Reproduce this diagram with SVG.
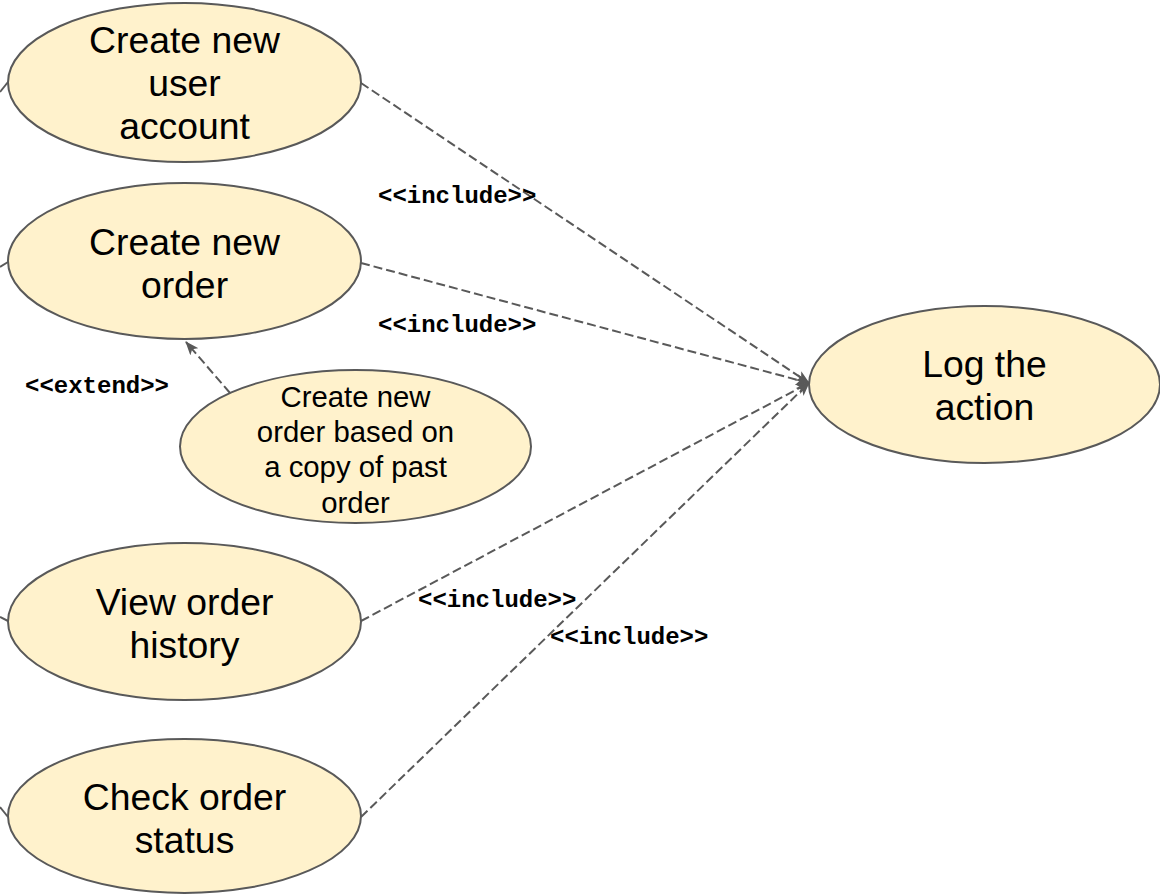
<svg xmlns="http://www.w3.org/2000/svg" width="1160" height="895" viewBox="0 0 1160 895">
  <style>
    .uc { fill: #fff2cc; stroke: #595959; stroke-width: 2; }
    .lbl { font-family: "Liberation Sans", Arial, sans-serif; font-size: 37.33px; fill: #000; text-anchor: middle; }
    .lbl-sm { font-family: "Liberation Sans", Arial, sans-serif; font-size: 29.33px; fill: #000; text-anchor: middle; }
    .dep { fill: none; stroke: #595959; stroke-width: 2; stroke-dasharray: 9 4; }
    .assoc { fill: none; stroke: #595959; stroke-width: 2; }
    .stereo { font-family: "Liberation Mono", "Courier New", monospace; font-weight: bold; font-size: 24px; fill: #000; }
  </style>
  <defs>
    <marker id="arrow" viewBox="0 0 14 11" refX="13" refY="5.5" markerWidth="14" markerHeight="11" markerUnits="userSpaceOnUse" orient="auto">
      <path d="M0,0 L14,5.5 L0,11 L3.5,5.5 Z" fill="#595959"/>
    </marker>
  </defs>
  <rect width="1160" height="895" fill="#ffffff"/>

  <!-- association stubs and dependency connectors -->
  <g id="connectors">
    <line class="assoc" x1="0" y1="92" x2="8" y2="82"/>
    <line class="assoc" x1="0" y1="267" x2="8" y2="262"/>
    <line class="assoc" x1="0" y1="617" x2="8" y2="621"/>
    <line class="assoc" x1="0" y1="807" x2="8" y2="817"/>

    <line class="dep" x1="361" y1="83" x2="809" y2="383" marker-end="url(#arrow)"/>
    <line class="dep" x1="361" y1="263" x2="809" y2="383" marker-end="url(#arrow)"/>
    <line class="dep" x1="361" y1="621" x2="809" y2="383" marker-end="url(#arrow)"/>
    <line class="dep" x1="361" y1="817" x2="809" y2="383" marker-end="url(#arrow)"/>
    <line class="dep" x1="230" y1="393" x2="186" y2="342" marker-end="url(#arrow)"/>

    <text class="stereo" x="378" y="203">&lt;&lt;include&gt;&gt;</text>
    <text class="stereo" x="378" y="332">&lt;&lt;include&gt;&gt;</text>
    <text class="stereo" x="418" y="607">&lt;&lt;include&gt;&gt;</text>
    <text class="stereo" x="550" y="644">&lt;&lt;include&gt;&gt;</text>
    <text class="stereo" x="25" y="393">&lt;&lt;extend&gt;&gt;</text>
  </g>

  <g id="uc-create-account">
    <ellipse class="uc" cx="184.5" cy="82.5" rx="176.5" ry="79.5"/>
    <text class="lbl" x="184.5" y="53">Create new</text>
    <text class="lbl" x="184.5" y="96">user</text>
    <text class="lbl" x="184.5" y="139">account</text>
  </g>

  <g id="uc-create-order">
    <ellipse class="uc" cx="184.5" cy="261" rx="176.5" ry="78"/>
    <text class="lbl" x="184.5" y="255">Create new</text>
    <text class="lbl" x="184.5" y="298">order</text>
  </g>

  <g id="uc-copy-order">
    <ellipse class="uc" cx="355.5" cy="446.5" rx="175.5" ry="76.5"/>
    <text class="lbl-sm" x="355.5" y="407">Create new</text>
    <text class="lbl-sm" x="355.5" y="442">order based on</text>
    <text class="lbl-sm" x="355.5" y="477">a copy of past</text>
    <text class="lbl-sm" x="355.5" y="513">order</text>
  </g>

  <g id="uc-view-history">
    <ellipse class="uc" cx="184.5" cy="621.5" rx="176.5" ry="78.5"/>
    <text class="lbl" x="184.5" y="615">View order</text>
    <text class="lbl" x="184.5" y="658">history</text>
  </g>

  <g id="uc-check-status">
    <ellipse class="uc" cx="184.5" cy="816" rx="176.5" ry="77"/>
    <text class="lbl" x="184.5" y="810">Check order</text>
    <text class="lbl" x="184.5" y="853">status</text>
  </g>

  <g id="uc-log-action">
    <ellipse class="uc" cx="984.5" cy="384.5" rx="175.5" ry="78.5"/>
    <text class="lbl" x="984.5" y="377">Log the</text>
    <text class="lbl" x="984.5" y="420">action</text>
  </g>
</svg>
